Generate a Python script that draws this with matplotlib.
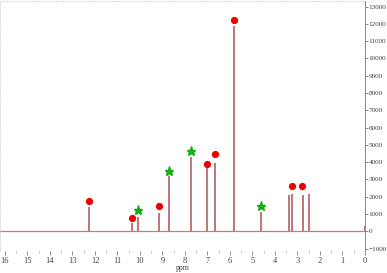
import matplotlib.pyplot as plt
from matplotlib.ticker import MultipleLocator

# peak positions (ppm) and intensities
shifts = [12.25, 10.37, 10.10, 9.14, 8.71, 7.73, 7.02, 6.67, 5.82, 4.62, 3.36, 3.23, 2.77, 2.50, 0.0]
heights = [1420, 500, 800, 1075, 3220, 4290, 3700, 3950, 11900, 1110, 2090, 2180, 2070, 2180, 300]

# annotation markers
circle_x = [12.25, 10.37, 9.14, 7.02, 6.67, 5.82, 3.23, 2.80]
circle_y = [1770, 750, 1440, 3870, 4480, 12250, 2600, 2600]
star_x = [10.10, 8.71, 7.73, 4.62]
star_y = [1210, 3490, 4650, 1490]

plt.rcParams['font.family'] = ['Liberation Serif', 'DejaVu Serif']

fig = plt.figure(figsize=(3.87, 2.73), dpi=100)
ax = fig.add_axes([0.0, 0.08, 0.943, 0.915])

ax.axhline(0, color='#c07b7b', lw=0.9, zorder=1)
ax.vlines(shifts, 0, heights, color='#b86c6c', lw=1.3, zorder=2)

ax.plot(circle_x, circle_y, 'o', color='#ee0000', ms=4.2, mec='#ee0000', zorder=3)
ax.plot(star_x, star_y, '*', color='#11bb11', ms=6.5, mec='#11aa11', zorder=3)

ax.set_xlim(16.22, 0)
ax.set_ylim(-1150, 13300)

ax.xaxis.set_major_locator(MultipleLocator(1))
ax.xaxis.set_minor_locator(MultipleLocator(0.5))
ax.yaxis.set_major_locator(MultipleLocator(1000))
ax.yaxis.tick_right()

ax.tick_params(axis='both', which='major', labelsize=6, color='#777777',
               labelcolor='#444444', length=3, width=0.6, pad=1.2)
ax.tick_params(axis='y', which='major', labelsize=5.2, length=2, pad=0.8)
ax.tick_params(axis='x', which='minor', length=1.5, width=0.5, color='#999999')

ax.spines['bottom'].set_visible(False)
ax.spines['right'].set_color('#888888')
ax.spines['right'].set_linewidth(0.7)
for s in ['top', 'left']:
    ax.spines[s].set_color('#dddddd')
    ax.spines[s].set_linestyle(':')
    ax.spines[s].set_linewidth(0.8)

ax.set_xlabel('ppm', fontsize=5.5, color='#444444', labelpad=-1)

fig.savefig('out.png', dpi=100)
